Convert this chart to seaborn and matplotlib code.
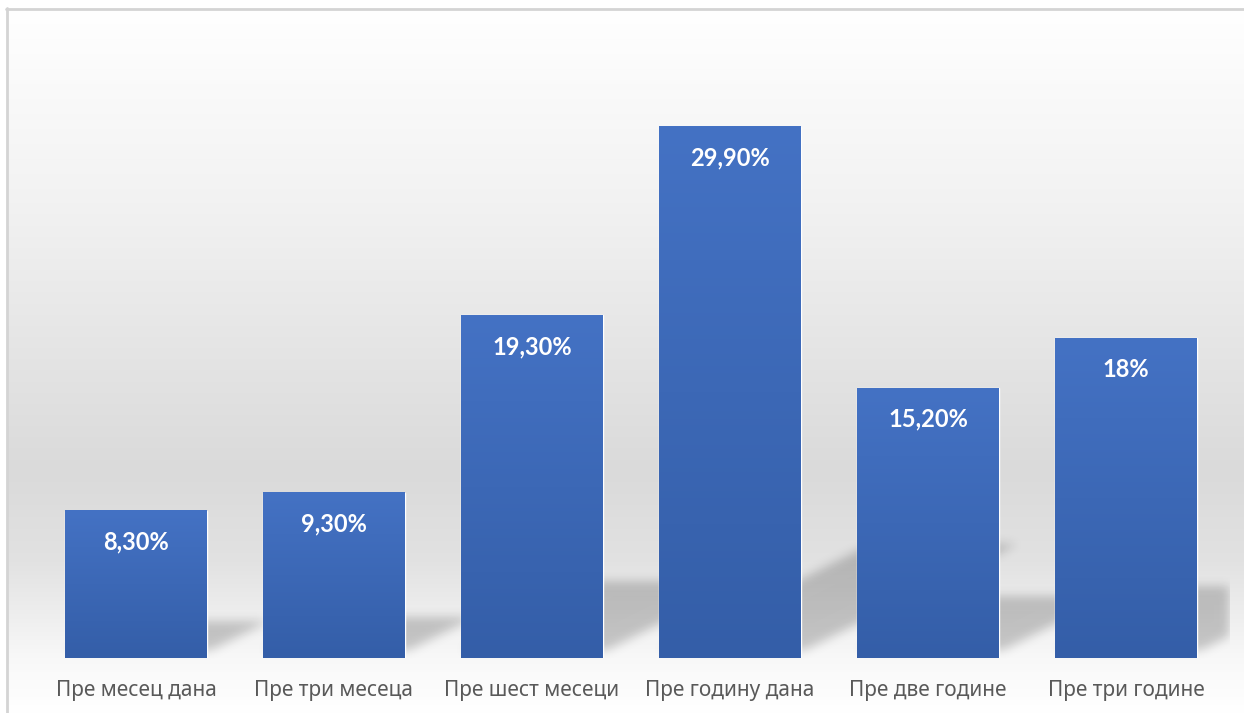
import numpy as np
import pandas as pd
import matplotlib
matplotlib.use("Agg")
import matplotlib.pyplot as plt
import seaborn as sns
from matplotlib.path import Path
from matplotlib.colors import LinearSegmentedColormap

# ---- data ----
categories = ["Пре месец дана", "Пре три месеца", "Пре шест месеци",
              "Пре годину дана", "Пре две године", "Пре три године"]
values = [8.3, 9.3, 19.3, 29.9, 15.2, 18.0]
value_labels = ["8,30%", "9,30%", "19,30%", "29,90%", "15,20%", "18%"]

sns.set_theme(style="white")
plt.rcParams['font.family'] = ['Noto Sans', 'DejaVu Sans']

W, H = 1244, 713
fig = plt.figure(figsize=(W / 100, H / 100), dpi=100)

# ---- background (figure-level) ----
bg_ax = fig.add_axes([0, 0, 1, 1], zorder=0)
rows = np.arange(H)
stops_y = [0, 9, 200, 470, 560, 660, 713]
stops_v = [1.0, 1.0, 0.95, 0.855, 0.885, 0.975, 1.0]
col = np.interp(rows, stops_y, stops_v)
gray = np.repeat(col[:, None], W, axis=1)
gray[:9, :] = 1.0
gray[:, :7] = 1.0
bg_ax.imshow(np.dstack([gray] * 3), extent=[0, W, H, 0], aspect='auto',
             interpolation='bilinear', zorder=0)
bg_ax.set_xlim(0, W)
bg_ax.set_ylim(H, 0)
bg_ax.axis('off')
bg_ax.plot([6, W], [8.5, 8.5], color='#d4d4d4', lw=2, zorder=5)
bg_ax.plot([7, 7], [8, H], color='#d4d4d4', lw=2, zorder=5)

# ---- main axes ----
base_row = 658
px_per_unit = 17.76
ymax = 35
ax = fig.add_axes([37 / W, (H - base_row) / H, 1188 / W, ymax * px_per_unit / H], zorder=2)
ax.patch.set_alpha(0)

df = pd.DataFrame({"cat": categories, "val": values})
sns.barplot(data=df, x="cat", y="val", color="#4472c4", width=0.717,
            saturation=1, ax=ax, zorder=3)
ax.set_xlim(-0.5, len(categories) - 0.5)
ax.set_ylim(0, ymax)

# gradient overlay on each bar
bar_cmap = LinearSegmentedColormap.from_list("bar", ["#345ea8", "#4472c4"])
grad = np.linspace(0, 1, 256)[:, None]
for p, lab in zip(ax.patches, value_labels):
    x0, w, h = p.get_x(), p.get_width(), p.get_height()
    ax.imshow(grad, extent=[x0, x0 + w, 0, h], origin='lower', cmap=bar_cmap,
              aspect='auto', zorder=4, interpolation='bilinear')
    ax.annotate(lab, (x0 + w / 2, h), xytext=(0, -22.5), textcoords='offset points',
                ha='center', va='center', color='white', fontsize=17,
                fontweight='bold', family=['Lato', 'Open Sans', 'DejaVu Sans'],
                zorder=6)
ax.set_xlim(-0.5, len(categories) - 0.5)
ax.set_ylim(0, ymax)

# ---- shadows (drawn on background layer, behind bars) ----
yy, xx = np.mgrid[0:H, 0:W] + 0.5
pts = np.column_stack([xx.ravel(), yy.ravel()])
mask = np.zeros((H, W))
for p in ax.patches:
    x0, w, h = p.get_x(), p.get_width(), p.get_height()
    px0, pyb = ax.transData.transform((x0, 0))
    px1, pyt = ax.transData.transform((x0 + w, h))
    rb, rt = H - pyb, H - pyt
    hs = 0.2 * (rb - rt)
    b = rb - 8
    poly = [(px0, b), (px1 + 4, b), (px1 + 4 + 2 * hs, b - hs), (px0 + 2 * hs, b - hs)]
    inside = Path(poly).contains_points(pts).reshape(H, W)
    mask = np.maximum(mask, inside.astype(float))
mask[:, 1229:] = 0

def blur(a, sigma):
    r = int(3 * sigma)
    k = np.exp(-0.5 * (np.arange(-r, r + 1) / sigma) ** 2)
    k /= k.sum()
    a = np.apply_along_axis(lambda m: np.convolve(m, k, mode='same'), 0, a)
    a = np.apply_along_axis(lambda m: np.convolve(m, k, mode='same'), 1, a)
    return a

mask = blur(mask, 5)
mask[:, 1230:] = 0
shadow = np.zeros((H, W, 4))
shadow[..., 3] = 0.2 * mask
bg_ax.imshow(shadow, extent=[0, W, H, 0], aspect='auto', zorder=1)
bg_ax.set_xlim(0, W)
bg_ax.set_ylim(H, 0)

# ---- axes styling ----
ax.set_xlabel("")
ax.set_ylabel("")
ax.set_yticks([])
ax.tick_params(axis='x', length=0, pad=16, labelsize=15, labelcolor='#595959')
for s in ax.spines.values():
    s.set_visible(False)

fig.savefig("out.png", dpi=100)
